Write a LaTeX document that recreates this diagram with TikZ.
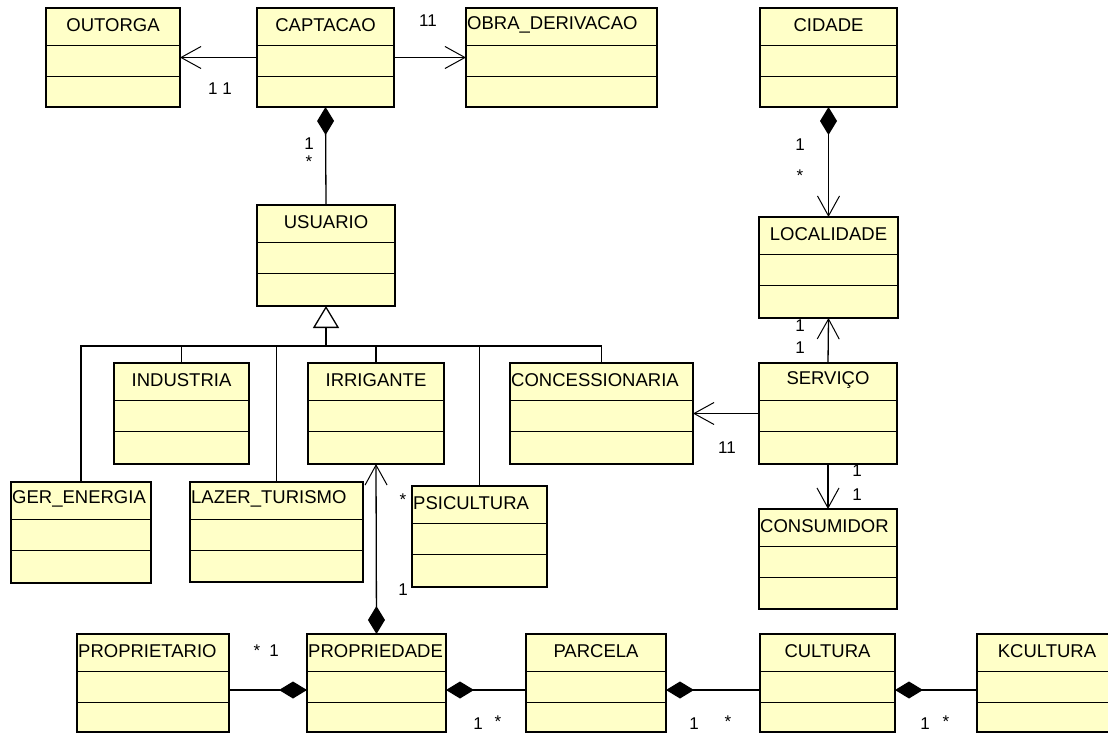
\documentclass[tikz,border=0pt]{standalone}
\usepackage{fontspec}
\setmainfont{Liberation Sans}
\usetikzlibrary{arrows.meta}
\definecolor{classfill}{RGB}{255,255,200}

% one class: name, left, top, width, height, title
\newcommand{\umlclass}[6]{%
  \node[classbox, minimum width=#4pt, minimum height=#5pt] (#1) at (#2,#3) {};
  \draw ([yshift=-37pt]#1.north west) -- ([yshift=-37pt]#1.north east);
  \draw ([yshift=-68pt]#1.north west) -- ([yshift=-68pt]#1.north east);
  \node[classname] (#1-t) at ([yshift=-17pt]#1.north) {#6};
}
% same, title set from the left edge
\newcommand{\umlclassl}[6]{%
  \node[classbox, minimum width=#4pt, minimum height=#5pt] (#1) at (#2,#3) {};
  \draw ([yshift=-37pt]#1.north west) -- ([yshift=-37pt]#1.north east);
  \draw ([yshift=-68pt]#1.north west) -- ([yshift=-68pt]#1.north east);
  \node[classname, anchor=west] (#1-t) at ([xshift=1pt,yshift=-17pt]#1.north west) {#6};
}

\begin{document}
\begin{tikzpicture}[x=1pt,y=-1pt,
  classbox/.style={draw, fill=classfill, line width=1.4pt, anchor=north west, inner sep=0pt, outer sep=0pt},
  classname/.style={inner sep=0pt, font=\fontsize{18.5}{20}\selectfont},
  mult/.style={inner sep=0pt, font=\fontsize{17}{19}\selectfont},
  assoc/.style={line width=1.3pt, -{Straight Barb[length=20pt,width=22pt,line width=1pt]}},
  comp/.style={line width=1.3pt, {Diamond[length=28pt,width=17pt]}-},
  compnav/.style={line width=1.3pt, {Diamond[length=28pt,width=17pt]}-{Straight Barb[length=20pt,width=22pt,line width=1pt]}}]
\useasboundingbox (0,0) rectangle (1108,733);

%top row
\umlclass{outorga}{46}{8}{134}{99}{OUTORGA}
\umlclass{captacao}{257}{8}{137}{99}{CAPTACAO}
\umlclassl{obra}{466}{8}{191}{99}{OBRA\_DERIVACAO}
\umlclass{cidade}{760}{8}{137}{99}{CIDADE}
%middle
\umlclass{usuario}{257}{205}{138}{101}{USUARIO}
\umlclass{localidade}{759}{217}{139}{101}{LOCALIDADE}
\umlclass{industria}{114}{363}{135}{101}{INDUSTRIA}
\umlclass{irrigante}{308}{363}{136}{101}{IRRIGANTE}
\umlclassl{concessionaria}{510}{363}{183}{101}{CONCESSIONARIA}
\umlclass{servico}{759}{363}{138}{101}{SERVIÇO}
\umlclassl{gerenergia}{11}{482}{140}{101}{GER\_ENERGIA}
\umlclassl{lazer}{190}{482}{173}{100}{LAZER\_TURISMO}
\umlclassl{psicultura}{412}{486}{135}{101}{PSICULTURA}
\umlclassl{consumidor}{759}{509}{138}{100}{CONSUMIDOR}
%bottom row
\umlclassl{proprietario}{77}{634}{152}{98}{PROPRIETARIO}
\umlclassl{propriedade}{307}{634}{139}{98}{PROPRIEDADE}
\umlclass{parcela}{526}{634}{140}{98}{PARCELA}
\umlclass{cultura}{760}{634}{135}{98}{CULTURA}
\umlclass{kcultura}{977}{634}{140}{98}{KCULTURA}

%captacao
\draw[assoc] (captacao.west) -- (outorga.east);
\node[mult] (m-out) at (220,89) {1 1};
\draw[assoc] (captacao.east) -- (obra.west);
\node[mult] (m-obra) at (428,21) {11};
\draw[comp] (captacao.south) -- (usuario.north);
\node[mult] (m-cap1) at (309,144) {1};
\node[mult] (m-cap2) at (309,162) {*};

%cidade, servico
\draw[compnav] (cidade.south) -- (localidade.north);
\node[mult] (m-cid1) at (800,145) {1};
\node[mult] (m-cid2) at (800,176) {*};
\draw[assoc] (servico.north) -- (localidade.south);
\node[mult] (m-loc1) at (800,326) {1};
\node[mult] (m-loc2) at (800,348) {1};
\draw[assoc] (servico.west) -- (concessionaria.east);
\node[mult] (m-con) at (727,448) {11};
\draw[assoc] (servico.south) -- (consumidor.north);
\node[mult] (m-cons1) at (857,471) {1};
\node[mult] (m-cons2) at (857,495) {1};

%generalization
\coordinate (gen) at (326,346);
\draw[line width=1.3pt, {Triangle[open,length=22pt,width=26pt,line width=1.3pt]}-] (usuario.south) -- (gen);
\foreach \c in {gerenergia,industria,lazer,irrigante,psicultura,concessionaria}
  \draw[line width=1.3pt] (gen) -| (\c.north);

%propriedade
\draw[compnav] (propriedade.north) -- (irrigante.south);
\node[mult] (m-irr1) at (403,500) {*};
\node[mult] (m-irr2) at (403,590) {1};
\draw[comp] ([yshift=-7pt]propriedade.west) -- ([yshift=-7pt]proprietario.east);
\node[mult] (m-pr1) at (257,651) {*};
\node[mult] (m-pr2) at (274,651) {1};
\draw[comp] ([yshift=-7pt]propriedade.east) -- ([yshift=-7pt]parcela.west);
\node[mult] (m-pa1) at (478,724) {1};
\node[mult] (m-pa2) at (498,722) {*};
\draw[comp] ([yshift=-7pt]parcela.east) -- ([yshift=-7pt]cultura.west);
\node[mult] (m-cu1) at (694,724) {1};
\node[mult] (m-cu2) at (728,722) {*};
\draw[comp] ([yshift=-7pt]cultura.east) -- ([yshift=-7pt]kcultura.west);
\node[mult] (m-kc1) at (925,724) {1};
\node[mult] (m-kc2) at (946,722) {*};
\end{tikzpicture}
\end{document}
